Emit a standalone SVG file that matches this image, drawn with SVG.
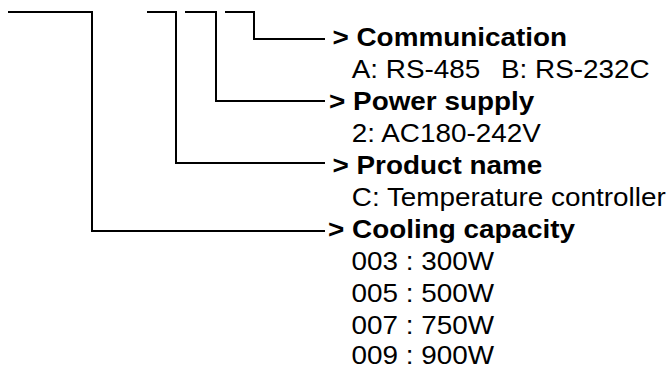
<svg xmlns="http://www.w3.org/2000/svg" width="670" height="366" viewBox="0 0 670 366">
  <style>
    .conn { fill: none; stroke: #000; stroke-width: 2; }
    text { font-family: "Liberation Sans", Arial, sans-serif; font-size: 25px; fill: #000; white-space: pre; }
    .b { font-weight: bold; }
  </style>
  <rect width="670" height="366" fill="#fff"/>
  <g id="connectors">
    <path class="conn" d="M8 12 H92 V231 H325"/>
    <path class="conn" d="M147 12 H176 V163 H325"/>
    <path class="conn" d="M185 12 H216 V101 H325"/>
    <path class="conn" d="M225 12 H254 V39 H325"/>
  </g>
  <g transform="scale(1.115 1)">
    <g id="communication">
      <text class="b" x="298.2" y="46.5">&gt; Communication</text>
      <text x="315.5" y="78.5">A: RS-485</text>
      <text x="449.3" y="78.5">B: RS-232C</text>
    </g>
    <g id="power-supply">
      <text class="b" x="295.1" y="110.5">&gt; Power supply</text>
      <text x="315.5" y="142.5">2: AC180-242V</text>
    </g>
    <g id="product-name">
      <text class="b" x="298.2" y="174.5">&gt; Product name</text>
      <text x="315.5" y="206.5">C: Temperature controller</text>
    </g>
    <g id="cooling-capacity">
      <text class="b" x="294.2" y="238.5">&gt; Cooling capacity</text>
      <text x="315.2" y="270.5">003 : 300W</text>
      <text x="315.2" y="302.5">005 : 500W</text>
      <text x="315.2" y="334">007 : 750W</text>
      <text x="315.2" y="364.5">009 : 900W</text>
    </g>
  </g>
</svg>
